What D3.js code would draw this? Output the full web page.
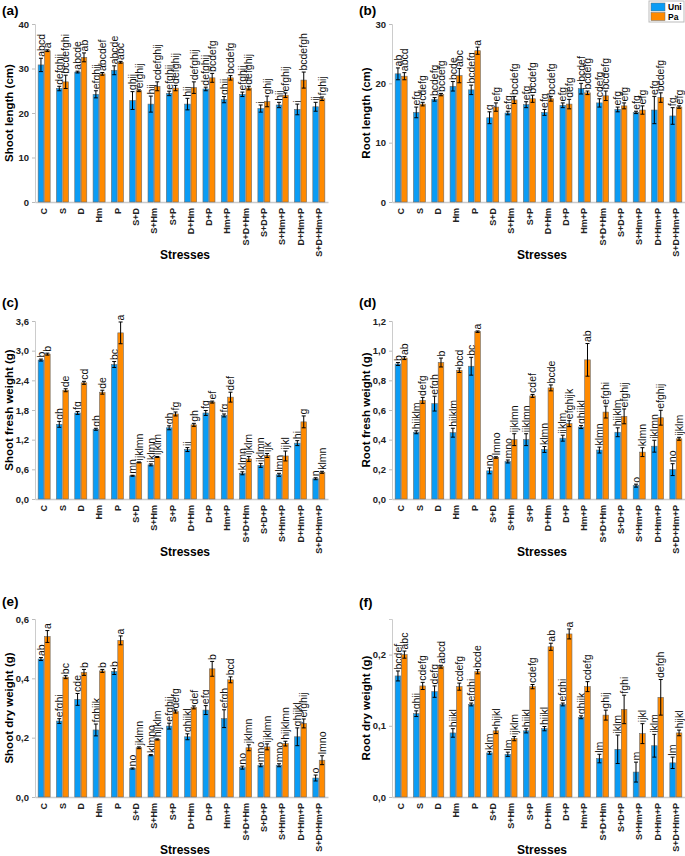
<!DOCTYPE html>
<html>
<head>
<meta charset="utf-8">
<script src="https://cdn.jsdelivr.net/npm/d3@7"></script>
<style>
body{margin:0;background:#fff;}
svg text{font-family:"Liberation Sans",Arial,sans-serif;}
</style>
</head>
<body>
<svg id="chart" width="685" height="856"></svg>
<script>
var categories = ["C","S","D","Hm","P","S+D","S+Hm","S+P","D+Hm","D+P","Hm+P","S+D+Hm","S+D+P","S+Hm+P","D+Hm+P","S+D+Hm+P"];
var seriesNames = ["Uni","Pa"];
var colors = ["#0a9cf5","#ff8a00"];

// (a) shoot length
var shootLenUni = [30.8,25.5,29.2,24.2,29.6,22.8,22.0,24.4,22.0,25.4,23.0,24.2,21.0,21.8,20.8,21.4];
var shootLenUniErr = [1.5,0.5,0.2,0.8,1.0,2.0,1.8,0.5,1.3,0.4,0.7,0.5,0.8,0.6,1.2,1.0];
var shootLenPa = [34.0,27.0,32.5,28.8,31.4,25.0,26.0,25.6,25.7,27.9,27.9,25.6,22.6,24.0,27.4,23.2];
var shootLenPaErr = [0.2,1.5,1.0,0.3,0.2,0.2,1.0,0.6,1.3,1.0,0.5,0.4,1.2,0.5,1.8,0.4];
var shootLenUniLet = ["abcd","defghij","abcde","efghij","abcde","ghij","hij","efghij","hij","defghij","ghij","efghij","j","hij","j","ij"];
var shootLenPaLet = ["a","bcdefghi","ab","abcdef","abc","efghij","cdefghij","defghij","defghij","bcdefg","bcdefg","defghij","ghij","efghij","bcdefgh","fghij"];

// (b) root length
var rootLenUni = [21.6,15.1,17.3,19.5,18.9,14.2,15.0,16.4,15.1,16.3,19.1,16.7,15.6,15.1,15.5,14.5];
var rootLenUniErr = [1.0,0.9,0.3,0.8,0.8,1.0,0.3,0.5,0.5,0.4,0.9,0.7,0.4,0.2,2.3,1.4];
var rootLenPa = [21.2,16.5,18.1,21.3,25.5,16.0,17.2,17.4,17.4,16.5,18.4,17.9,16.2,15.5,17.6,16.0];
var rootLenPaErr = [0.6,0.3,0.2,1.2,0.6,0.7,0.6,0.6,0.4,0.8,0.3,0.8,0.5,0.7,0.8,0.2];
var rootLenUniLet = ["ab","efg","bcdefg","bcde","bcdefg","g","efg","efg","efg","efg","bcdef","cdefg","efg","efg","efg","fg"];
var rootLenPaLet = ["abcd","cdefg","bcdefg","abc","a","efg","bcdefg","bcdefg","bcdefg","defg","bcdefg","bcdefg","efg","efg","bcdefg","efg"];

// (c) shoot fresh weight
var shootFwUni = [2.81,1.51,1.74,1.41,2.72,0.47,0.69,1.44,1.00,1.74,1.69,0.52,0.68,0.49,1.13,0.41];
var shootFwUniErr = [0.02,0.06,0.03,0.02,0.06,0.01,0.02,0.04,0.04,0.05,0.03,0.03,0.04,0.03,0.05,0.02];
var shootFwPa = [2.93,2.20,2.35,2.16,3.36,0.74,0.85,1.72,1.50,1.96,2.06,0.81,0.88,0.87,1.56,0.54];
var shootFwPaErr = [0.02,0.03,0.03,0.04,0.22,0.01,0.01,0.04,0.03,0.02,0.10,0.05,0.04,0.10,0.12,0.02];
var shootFwUniLet = ["b","gh","fg","gh","bc","mn","jklmn","gh","ij","fg","fg","klmn","jklmn","lmn","hi","n"];
var shootFwPaLet = ["b","de","cd","de","a","ijklmn","ijklm","fg","gh","ef","def","ijklm","ijk","ijkl","g","klmn"];

// (d) root fresh weight
var rootFwUni = [0.91,0.45,0.643,0.447,0.895,0.19,0.253,0.40,0.334,0.41,0.485,0.33,0.45,0.09,0.356,0.198];
var rootFwUniErr = [0.01,0.01,0.05,0.03,0.06,0.02,0.01,0.04,0.02,0.02,0.01,0.02,0.03,0.01,0.04,0.04];
var rootFwPa = [0.95,0.665,0.92,0.868,1.128,0.28,0.40,0.695,0.749,0.508,0.938,0.586,0.557,0.316,0.548,0.406];
var rootFwPaErr = [0.01,0.02,0.03,0.015,0.005,0.005,0.04,0.01,0.02,0.02,0.11,0.04,0.05,0.03,0.05,0.01];
var rootFwUniLet = ["b","hijklm","efgh","hijklm","bc","no","mno","ijklmn","klmn","ijklm","ghijkl","klmn","hijklm","o","jklmn","no"];
var rootFwPaLet = ["ab","defg","b","bcd","a","lmno","ijklmn","cdef","bcde","efghijk","ab","efghi","efghij","klmn","efghij","ijklm"];

// (e) shoot dry weight
var shootDwUni = [0.465,0.256,0.329,0.226,0.423,0.096,0.141,0.239,0.203,0.293,0.264,0.099,0.107,0.107,0.203,0.064];
var shootDwUniErr = [0.005,0.008,0.02,0.02,0.01,0.002,0.002,0.01,0.01,0.015,0.03,0.005,0.005,0.005,0.03,0.01];
var shootDwPa = [0.541,0.404,0.42,0.425,0.528,0.166,0.194,0.288,0.302,0.432,0.395,0.166,0.169,0.18,0.248,0.124];
var shootDwPaErr = [0.02,0.005,0.01,0.005,0.015,0.003,0.002,0.005,0.005,0.025,0.01,0.01,0.01,0.008,0.015,0.015];
var shootDwUniLet = ["ab","efghi","cde","fghijk","b","no","klmno","efghij","ghijkl","efg","efgh","no","mno","mno","ghijkl","o"];
var shootDwPaLet = ["a","bc","b","b","a","jklmn","hijklm","defg","def","b","bcd","jklmn","ijklmn","hijklmn","efghij","lmno"];

// (f) root dry weight
var rootDwUni = [0.170,0.117,0.148,0.090,0.130,0.062,0.060,0.093,0.096,0.130,0.112,0.054,0.067,0.035,0.072,0.048];
var rootDwUniErr = [0.007,0.004,0.008,0.006,0.002,0.002,0.003,0.003,0.003,0.002,0.002,0.006,0.02,0.014,0.016,0.008];
var rootDwPa = [0.200,0.156,0.183,0.155,0.176,0.093,0.082,0.155,0.211,0.229,0.155,0.115,0.123,0.089,0.140,0.090];
var rootDwPaErr = [0.005,0.005,0.002,0.005,0.003,0.004,0.003,0.003,0.005,0.007,0.007,0.007,0.02,0.014,0.025,0.004];
var rootDwUniLet = ["bcdef","ghij","defg","hijkl","efghi","klm","lm","hijkl","hijkl","efghi","ghijk","lm","jklm","m","jklm","lm"];
var rootDwPaLet = ["abc","cdefg","abcd","cdefg","bcde","hijkl","ijklm","cdefg","ab","a","cdefg","ghij","fghi","ijkl","defgh","hijkl"];

var svg = d3.select("#chart");
var fmtComma = function(d){ return d3.format(".1f")(d).replace(".",","); };

// one panel of grouped bars
var drawPanel = function(p)
{
    var g = svg.append("g");
    var x = d3.scaleBand().domain(categories).range([p.left, p.left+293]).paddingInner(0.3).paddingOuter(0.15);
    var xs = d3.scaleBand().domain(seriesNames).range([0, x.bandwidth()]);
    var y = d3.scaleLinear().domain([0, p.max]).range([p.top+178, p.top]);

    g.append("text").attr("x",p.left-33).attr("y",p.tagY)
        .attr("font-size",13.5).attr("font-weight","bold").text(p.tag);

    // axes
    var yAxis = d3.axisLeft(y).tickValues(p.ticks).tickSize(3).tickFormat(p.fmt);
    var ya = g.append("g").attr("transform","translate("+p.left+",0)").call(yAxis);
    ya.select(".domain").attr("stroke","#ccc");
    ya.selectAll(".tick line").attr("stroke","#bbb");
    ya.selectAll("text").attr("font-size",9.5).attr("font-weight","bold").attr("fill","#222");

    var xAxis = d3.axisBottom(x).tickSize(0);
    var xa = g.append("g").attr("transform","translate(0,"+(p.top+178)+")").call(xAxis);
    xa.select(".domain").attr("stroke","#ccc").attr("stroke-width",1.5);
    xa.selectAll("text").attr("font-size",9).attr("font-weight","bold").attr("fill","#222")
        .attr("text-anchor","end").attr("transform","rotate(-90)")
        .attr("x",-6).attr("y",0).attr("dy","0.35em");

    g.append("text").attr("x",p.left+150).attr("y",p.top+235)
        .attr("text-anchor","middle").attr("font-size",12).attr("font-weight","bold").text("Stresses");

    g.append("text").attr("transform","translate("+(p.left-22)+","+(p.top+89)+") rotate(-90)")
        .attr("text-anchor","middle").attr("font-size",11.5).attr("font-weight","bold").text(p.label);

    p.series.forEach(function(s, si)
    {
        var rows = categories.map(function(c,i){ return {c:c, v:s.vals[i], e:s.errs[i], l:s.lets[i]}; });
        var bx = function(d){ return x(d.c)+xs(seriesNames[si]); };
        var w = xs.bandwidth();

        g.selectAll(".bar"+si).data(rows).enter().append("rect")
            .attr("x",function(d){ return bx(d)+0.4; })
            .attr("y",function(d){ return y(d.v); })
            .attr("width",w-0.8)
            .attr("height",function(d){ return y(0)-y(d.v); })
            .attr("fill",colors[si])
            .attr("stroke","#6b6b6b").attr("stroke-width",0.6);

        var eb = g.selectAll(".err"+si).data(rows).enter().append("g");
        eb.append("line")
            .attr("x1",function(d){ return bx(d)+w/2; }).attr("x2",function(d){ return bx(d)+w/2; })
            .attr("y1",function(d){ return y(d.v+d.e); }).attr("y2",function(d){ return y(d.v-d.e); })
            .attr("stroke","#000").attr("stroke-width",1);
        [1,-1].forEach(function(sg)
        {
            eb.append("line")
                .attr("x1",function(d){ return bx(d)+w/2-2; }).attr("x2",function(d){ return bx(d)+w/2+2; })
                .attr("y1",function(d){ return y(d.v+sg*d.e); }).attr("y2",function(d){ return y(d.v+sg*d.e); })
                .attr("stroke","#000").attr("stroke-width",1);
        });

        g.selectAll(".let"+si).data(rows).enter().append("text")
            .attr("transform",function(d){ return "translate("+(bx(d)+w/2)+","+(y(d.v+d.e)-1.5)+") rotate(-90)"; })
            .attr("dy","0.35em").attr("font-size",10.5).attr("fill","#111")
            .text(function(d){ return d.l; });
    });
};

var panels = [
    {tag:"(a)", tagY:15, left:35, top:24, max:40, ticks:[0,10,20,30,40], fmt:d3.format("d"), label:"Shoot length (cm)",
     series:[{vals:shootLenUni,errs:shootLenUniErr,lets:shootLenUniLet},{vals:shootLenPa,errs:shootLenPaErr,lets:shootLenPaLet}]},
    {tag:"(b)", tagY:15, left:392, top:24, max:30, ticks:[0,10,20,30], fmt:d3.format("d"), label:"Root length (cm)",
     series:[{vals:rootLenUni,errs:rootLenUniErr,lets:rootLenUniLet},{vals:rootLenPa,errs:rootLenPaErr,lets:rootLenPaLet}]},
    {tag:"(c)", tagY:307, left:35, top:321, max:3.6, ticks:[0,0.6,1.2,1.8,2.4,3.0,3.6], fmt:fmtComma, label:"Shoot fresh weight (g)",
     series:[{vals:shootFwUni,errs:shootFwUniErr,lets:shootFwUniLet},{vals:shootFwPa,errs:shootFwPaErr,lets:shootFwPaLet}]},
    {tag:"(d)", tagY:307, left:392, top:321, max:1.2, ticks:[0,0.2,0.4,0.6,0.8,1.0,1.2], fmt:fmtComma, label:"Root fresh weight (g)",
     series:[{vals:rootFwUni,errs:rootFwUniErr,lets:rootFwUniLet},{vals:rootFwPa,errs:rootFwPaErr,lets:rootFwPaLet}]},
    {tag:"(e)", tagY:606, left:35, top:619, max:0.6, ticks:[0,0.2,0.4,0.6], fmt:fmtComma, label:"Shoot dry weight (g)",
     series:[{vals:shootDwUni,errs:shootDwUniErr,lets:shootDwUniLet},{vals:shootDwPa,errs:shootDwPaErr,lets:shootDwPaLet}]},
    {tag:"(f)", tagY:607, left:392, top:619, max:0.25, ticks:[0,0.1,0.2], fmt:fmtComma, label:"Root dry weight (g)",
     series:[{vals:rootDwUni,errs:rootDwUniErr,lets:rootDwUniLet},{vals:rootDwPa,errs:rootDwPaErr,lets:rootDwPaLet}]}
];

panels.forEach(drawPanel);

// legend
var leg = svg.append("g").attr("transform","translate(649,1)");
leg.append("rect").attr("width",35).attr("height",21).attr("fill","#fff").attr("stroke","#bbb");
seriesNames.forEach(function(n,i)
{
    leg.append("rect").attr("x",2).attr("y",2+i*9.5).attr("width",14).attr("height",8)
        .attr("fill",colors[i]).attr("stroke","#6b6b6b").attr("stroke-width",0.5);
    leg.append("text").attr("x",19).attr("y",9+i*9.5).attr("font-size",8.5).attr("font-weight","bold").text(n);
});
</script>
</body>
</html>
